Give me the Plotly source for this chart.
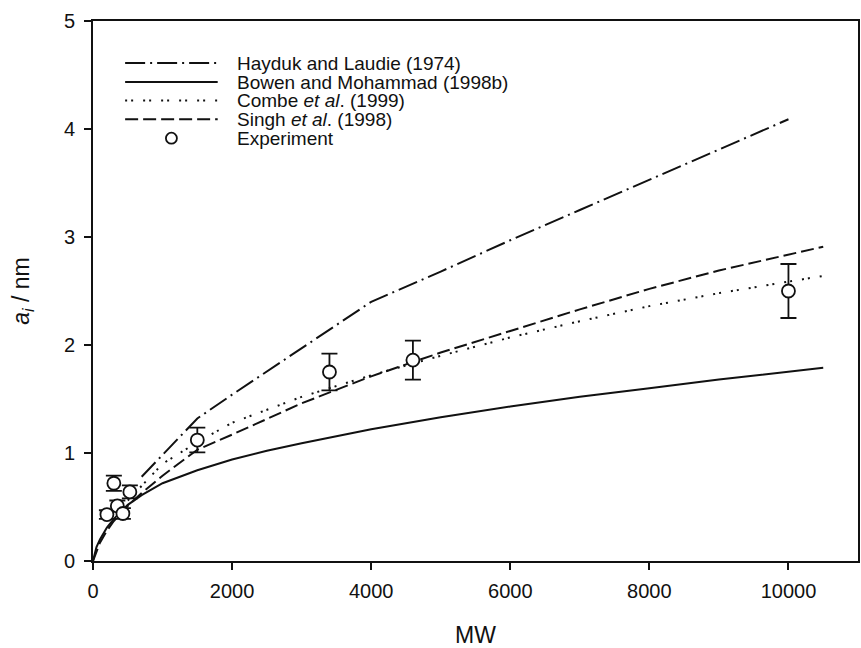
import plotly.graph_objects as go

# Hayduk and Laudie (1974)
mw_hayduk = [700, 1000, 1500, 2000, 3000, 4000, 5000, 6000, 7000, 8000, 9000, 10000]
a_hayduk = [0.78, 0.98, 1.32, 1.54, 1.97, 2.40, 2.68, 2.97, 3.25, 3.53, 3.81, 4.09]

# Bowen and Mohammad (1998b)
mw_bowen = [0, 50, 100, 200, 300, 500, 700, 1000, 1500, 2000, 2500, 3000, 4000,
            5000, 6000, 7000, 8000, 9000, 10500]
a_bowen = [0.0, 0.13, 0.20, 0.31, 0.39, 0.52, 0.61, 0.72, 0.84, 0.94, 1.02, 1.09, 1.22,
           1.33, 1.43, 1.52, 1.60, 1.68, 1.79]

# Combe et al. (1999)
mw_combe = [500, 700, 1000, 1500, 2000, 3000, 4000, 5000, 6000, 7000, 8000, 9000, 10500]
a_combe = [0.56, 0.70, 0.90, 1.10, 1.28, 1.52, 1.72, 1.90, 2.07, 2.22, 2.36, 2.48, 2.64]

# Singh et al. (1998)
mw_singh = [0, 100, 200, 300, 500, 700, 1000, 1500, 2000, 3000, 4000, 5000, 6000,
            7000, 8000, 9000, 10500]
a_singh = [0.0, 0.17, 0.28, 0.37, 0.51, 0.63, 0.79, 1.03, 1.17, 1.46, 1.71, 1.93, 2.13,
           2.33, 2.52, 2.69, 2.91]

# Experiment
mw_exp = [200, 300, 350, 430, 530, 1500, 3400, 4600, 10000]
a_exp = [0.43, 0.72, 0.51, 0.44, 0.64, 1.12, 1.75, 1.86, 2.50]
a_err = [0.04, 0.07, 0.05, 0.05, 0.06, 0.115, 0.17, 0.18, 0.25]

x_ticks = [0, 2000, 4000, 6000, 8000, 10000]
y_ticks = [0, 1, 2, 3, 4, 5]

FONT = "Arial, Liberation Sans, sans-serif"
BLACK = "#111111"

series = [
    ("Hayduk and Laudie (1974)", mw_hayduk, a_hayduk, "20px,5px,2px,5px"),
    ("Bowen and Mohammad (1998b)", mw_bowen, a_bowen, "solid"),
    ("Combe <i>et al</i>. (1999)", mw_combe, a_combe, "2px,4px,2px,10px"),
    ("Singh <i>et al</i>. (1998)", mw_singh, a_singh, "13px,5px"),
]

fig = go.Figure()
for name, xs, ys, dash in series:
    fig.add_trace(go.Scatter(
        x=xs, y=ys, mode="lines", name=name,
        line=dict(color=BLACK, width=2, dash=dash),
        showlegend=False,
    ))

fig.add_trace(go.Scatter(
    x=mw_exp, y=a_exp, mode="markers", name="Experiment",
    marker=dict(symbol="circle", size=13, color="white",
                line=dict(color=BLACK, width=1.8)),
    error_y=dict(type="data", array=a_err, visible=True,
                 color=BLACK, thickness=1.8, width=8),
    showlegend=False,
))

# Legend drawn in the upper-left corner of the plot
legend_rows = [0.922, 0.887, 0.853, 0.818, 0.783]
x0, x1, xt = 0.042, 0.163, 0.186
LEG_FONT = dict(family=FONT, size=19, color=BLACK)
shapes = []
annotations = []
for (name, _, _, dash), yy in zip(series, legend_rows):
    shapes.append(dict(type="line", xref="paper", yref="paper",
                       x0=x0, x1=x1, y0=yy, y1=yy,
                       line=dict(color=BLACK, width=2, dash=dash)))
    annotations.append(dict(xref="paper", yref="paper", x=xt, y=yy,
                            text=name, showarrow=False, xanchor="left",
                            yanchor="middle", font=LEG_FONT))
shapes.append(dict(type="circle", xref="paper", yref="paper",
                   xsizemode="pixel", ysizemode="pixel",
                   xanchor=(x0 + x1) / 2, yanchor=legend_rows[4],
                   x0=-5.5, x1=5.5, y0=-5.5, y1=5.5,
                   line=dict(color=BLACK, width=1.8), fillcolor="white"))
annotations.append(dict(xref="paper", yref="paper", x=xt, y=legend_rows[4],
                        text="Experiment", showarrow=False, xanchor="left",
                        yanchor="middle", font=LEG_FONT))

fig.update_layout(
    width=861, height=648,
    margin=dict(l=93, r=1, t=21, b=87),
    paper_bgcolor="white", plot_bgcolor="white",
    font=dict(family=FONT, color=BLACK),
    shapes=shapes, annotations=annotations,
    showlegend=False,
)
fig.update_xaxes(
    range=[0, 11000], tickvals=x_ticks, ticktext=[str(v) for v in x_ticks],
    showgrid=False, zeroline=False, showline=True, linecolor=BLACK, linewidth=2,
    mirror=True, ticks="outside", ticklen=7, tickwidth=2, tickcolor=BLACK,
    ticklabelstandoff=4,
    tickfont=dict(family=FONT, size=20, color=BLACK),
    title=dict(text="MW", font=dict(family=FONT, size=23, color=BLACK), standoff=27),
)
fig.update_yaxes(
    range=[0, 5], tickvals=y_ticks, ticktext=[str(v) for v in y_ticks],
    showgrid=False, zeroline=False, showline=True, linecolor=BLACK, linewidth=2,
    mirror=True, ticks="outside", ticklen=7, tickwidth=2, tickcolor=BLACK,
    ticklabelstandoff=5,
    tickfont=dict(family=FONT, size=20, color=BLACK),
    title=dict(text="<i>a<sub>i</sub></i> / nm",
               font=dict(family=FONT, size=23, color=BLACK), standoff=28),
)

fig.write_html("out.html")
